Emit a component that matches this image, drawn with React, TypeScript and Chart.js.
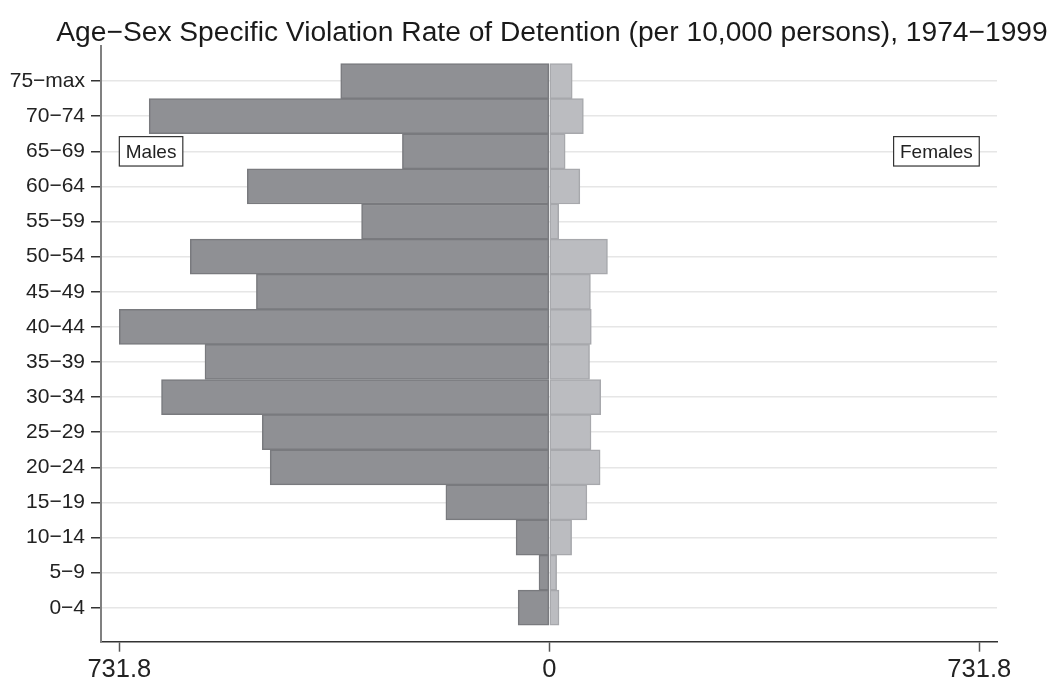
import React, { useEffect, useRef } from "react";
import { Chart, registerables } from "chart.js";

Chart.register(...registerables);

const titleText = "Age−Sex Specific Violation Rate of Detention (per 10,000 persons), 1974−1999";
const categories = ["0−4", "5−9", "10−14", "15−19", "20−24", "25−29", "30−34", "35−39", "40−44", "45−49", "50−54", "55−59", "60−64", "65−69", "70−74", "75−max"];
const males = [53, 17.5, 56.5, 176, 475, 488.5, 660, 586, 731.8, 498.5, 611, 319.5, 514, 250, 681, 355];
const females = [16.5, 12.5, 38, 64, 86.5, 71, 87.5, 68.5, 71.5, 70, 99, 16, 52, 27, 58, 39];
const xTicks = [-731.8, 0, 731.8];
const sideLabels = ["Males", "Females"];
const sideLabelRow = 13;

const FONT = '"Liberation Sans", Arial, Helvetica, sans-serif';

export default function App() {
  const ref = useRef<HTMLCanvasElement | null>(null);

  useEffect(() => {
    const canvas = ref.current;
    if (!canvas) return;

    const overlay = {
      id: "overlay",
      afterDraw(chart: any) {
        const ctx = chart.ctx;
        const area = chart.chartArea;
        const xs = chart.scales.x;
        const ys = chart.scales.y;
        ctx.save();
        // title
        ctx.fillStyle = "#1a1a1a";
        ctx.font = `28.2px ${FONT}`;
        ctx.textAlign = "center";
        ctx.textBaseline = "middle";
        ctx.fillText(titleText, (area.left + area.right) / 2 + 3, 33);
        // side labels
        ctx.font = `19px ${FONT}`;
        const yc = ys.getPixelForValue(sideLabelRow);
        const h = 29.4;
        const padX = 6.4;
        sideLabels.forEach((t, i) => {
          const w = ctx.measureText(t).width + padX * 2;
          const edge = xs.getPixelForValue(i === 0 ? xTicks[0] : xTicks[2]);
          const left = i === 0 ? edge : edge - w;
          ctx.fillStyle = "#ffffff";
          ctx.fillRect(left, yc - h / 2, w, h);
          ctx.strokeStyle = "#333333";
          ctx.lineWidth = 1.2;
          ctx.strokeRect(left, yc - h / 2, w, h);
          ctx.fillStyle = "#222222";
          ctx.textAlign = "left";
          ctx.textBaseline = "middle";
          ctx.fillText(t, left + padX, yc + 1);
        });
        ctx.restore();
      },
    };

    const chart = new Chart(canvas, {
      type: "bar",
      data: {
        datasets: [
          {
            label: "Females",
            data: females.map((v, i) => ({ x: v, y: i })),
            backgroundColor: "#bbbcc0",
            borderColor: "#a7a8ac",
            borderWidth: 1.5,
            borderSkipped: false,
            grouped: false,
            barPercentage: 1,
            categoryPercentage: 1,
          },
          {
            label: "Males",
            data: males.map((v, i) => ({ x: -v, y: i })),
            backgroundColor: "#8f9094",
            borderColor: "#797a7e",
            borderWidth: 1.5,
            borderSkipped: false,
            grouped: false,
            barPercentage: 1,
            categoryPercentage: 1,
          },
        ] as any,
      },
      options: {
        indexAxis: "y",
        animation: false,
        responsive: false,
        devicePixelRatio: 1,
        layout: { padding: { top: 46, right: 59, left: 0, bottom: 0 } },
        plugins: {
          legend: { display: false },
          tooltip: { enabled: false },
          title: { display: false },
        },
        scales: {
          x: {
            type: "linear",
            min: -763,
            max: 762,
            offset: false,
            afterBuildTicks: (s: any) => {
              s.ticks = xTicks.map((v) => ({ value: v }));
            },
            afterFit: (s: any) => {
              s.height = 42.3;
            },
            ticks: {
              callback: (v: any) => String(Math.abs(Number(v))),
              font: { family: FONT, size: 25.5 },
              color: "#222222",
              padding: 3,
              maxRotation: 0,
            },
            grid: {
              offset: false,
              drawOnChartArea: false,
              drawTicks: true,
              tickLength: 10,
              tickColor: "#555555",
              tickWidth: 1.5,
            },
            border: { display: true, color: "#333333", width: 1.5 },
          },
          y: {
            type: "linear",
            min: -0.968,
            max: 16.0,
            offset: false,
            afterBuildTicks: (s: any) => {
              s.ticks = categories.map((_, i) => ({ value: i }));
            },
            afterFit: (s: any) => {
              s.width = 101;
            },
            ticks: {
              callback: (v: any) => categories[Math.round(Number(v))] ?? "",
              font: { family: FONT, size: 21 },
              color: "#222222",
              padding: 6,
            },
            grid: {
              offset: false,
              color: "#e6e6e6",
              lineWidth: 1.5,
              drawTicks: true,
              tickLength: 10,
              tickColor: "#333333",
              tickWidth: 1.5,
            },
            border: { display: true, color: "#808080", width: 2 },
          },
        },
      } as any,
      plugins: [overlay],
    });

    return () => chart.destroy();
  }, []);

  return (
    <div style={{ position: "fixed", left: 0, top: 0, width: 1056, height: 684, background: "#ffffff" }}>
      <canvas ref={ref} width={1056} height={684} />
    </div>
  );
}
